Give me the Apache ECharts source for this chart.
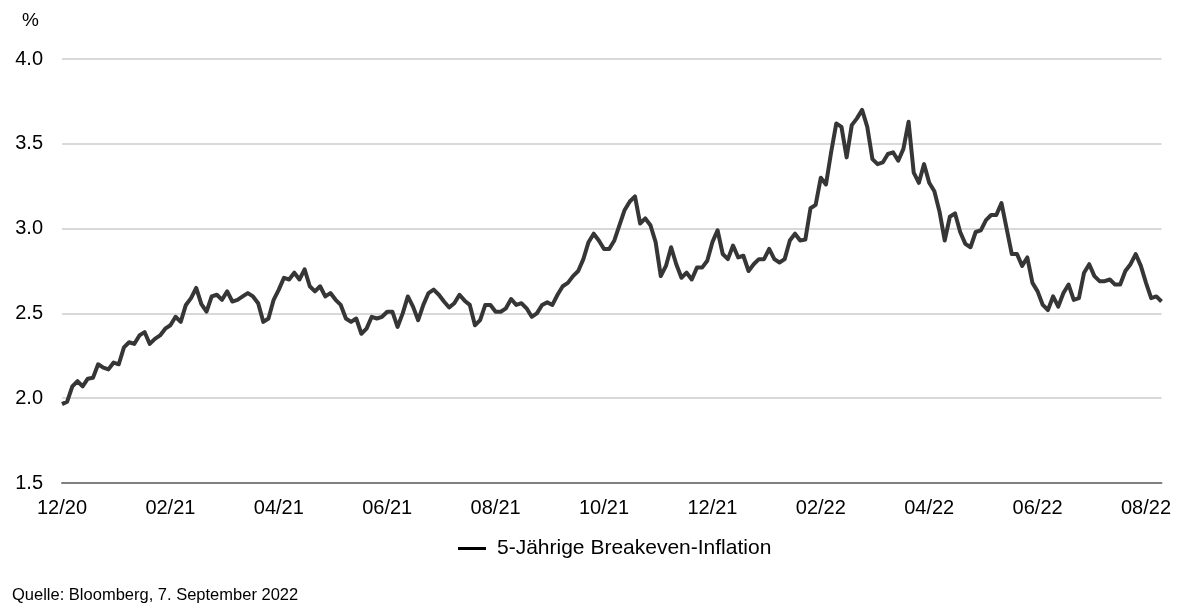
<!DOCTYPE html>
<html>
<head>
<meta charset="utf-8">
<script src="https://cdn.jsdelivr.net/npm/echarts@6/dist/echarts.min.js"></script>
<style>
html,body{margin:0;padding:0;background:#fff;}
#chart{width:1184px;height:613px;}
</style>
</head>
<body>
<div id="chart"></div>
<script>
var tickLabels = ['12/20','02/21','04/21','06/21','08/21','10/21','12/21','02/22','04/22','06/22','08/22'];
var labelEvery = 21;
var seriesName = '5-Jährige Breakeven-Inflation';
var breakeven = [
  1.965, 1.98, 2.07, 2.10, 2.07, 2.115, 2.12, 2.20, 2.18, 2.17,
  2.21, 2.20, 2.30, 2.33, 2.32, 2.37, 2.39, 2.32, 2.35, 2.37,
  2.41, 2.43, 2.48, 2.45, 2.55, 2.59, 2.65, 2.555, 2.51, 2.60,
  2.61, 2.58, 2.63, 2.57, 2.58, 2.60, 2.62, 2.60, 2.56, 2.45,
  2.47, 2.58, 2.64, 2.71, 2.70, 2.74, 2.70, 2.76, 2.66, 2.63,
  2.66, 2.60, 2.62, 2.58, 2.55, 2.47, 2.45, 2.47, 2.38, 2.41,
  2.48, 2.47, 2.48, 2.51, 2.51, 2.42, 2.50, 2.60, 2.54, 2.46,
  2.55, 2.62, 2.64, 2.61, 2.57, 2.535, 2.56, 2.61, 2.575, 2.55,
  2.43, 2.46, 2.55, 2.55, 2.51, 2.51, 2.53, 2.585, 2.55, 2.56,
  2.53, 2.48, 2.50, 2.55, 2.565, 2.55, 2.61, 2.66, 2.68, 2.72,
  2.75, 2.82, 2.92, 2.97, 2.93, 2.88, 2.88, 2.93, 3.02, 3.11,
  3.16, 3.19, 3.03, 3.06, 3.02, 2.92, 2.72, 2.78, 2.89, 2.79,
  2.71, 2.74, 2.70, 2.77, 2.77, 2.81, 2.92, 2.99, 2.85, 2.82,
  2.90, 2.83, 2.84, 2.75, 2.79, 2.82, 2.82, 2.88, 2.82, 2.80,
  2.82, 2.93, 2.97, 2.93, 2.935, 3.12, 3.14, 3.30, 3.26, 3.45,
  3.62, 3.60, 3.42, 3.61, 3.65, 3.70, 3.60, 3.41, 3.38, 3.39,
  3.44, 3.45, 3.40, 3.47, 3.63, 3.33, 3.27, 3.38, 3.27, 3.22,
  3.10, 2.93, 3.07, 3.09, 2.98, 2.91, 2.89, 2.98, 2.99, 3.05,
  3.08, 3.08, 3.15, 3.00, 2.85, 2.85, 2.78, 2.83, 2.68, 2.63,
  2.55, 2.52, 2.60, 2.54, 2.62, 2.67, 2.58, 2.59, 2.74, 2.79,
  2.72, 2.69, 2.69, 2.70, 2.67, 2.67, 2.75, 2.79, 2.85, 2.78,
  2.68, 2.59, 2.60, 2.57
];
var categories = breakeven.map(function (v, i) {
  return (i % labelEvery === 0 && tickLabels[i / labelEvery]) ? tickLabels[i / labelEvery] : String(i);
});

var FONT = '"Liberation Sans", Arial, sans-serif';
var chart = echarts.init(document.getElementById('chart'), null, {renderer: 'canvas'});
chart.setOption({
  animation: false,
  backgroundColor: '#ffffff',
  textStyle: {fontFamily: FONT},
  grid: {left: 62, right: 22.5, top: 59, bottom: 130},
  graphic: [
    {type: 'text', left: 22, top: 11, style: {text: '%', fontSize: 19, fontFamily: FONT, fill: '#000'}},
    {type: 'text', left: 12, top: 587, style: {text: 'Quelle: Bloomberg, 7. September 2022', fontSize: 16.5, fontFamily: FONT, fill: '#000'}}
  ],
  legend: {
    left: 458, top: 538, padding: 0,
    icon: 'rect', itemWidth: 28, itemHeight: 3, itemGap: 10,
    itemStyle: {color: '#000'},
    textStyle: {fontSize: 21, fontFamily: FONT, color: '#000', padding: [0, 0, 0, 6]},
    data: [seriesName]
  },
  xAxis: {
    type: 'category',
    data: categories,
    boundaryGap: false,
    axisLine: {show: true, lineStyle: {color: '#808080', width: 2}},
    axisTick: {show: false},
    axisLabel: {
      interval: function (i) { return i % labelEvery === 0; },
      color: '#000', fontSize: 20, fontFamily: FONT, margin: 15
    },
    splitLine: {show: false}
  },
  yAxis: {
    type: 'value',
    min: 1.5, max: 4.0, interval: 0.5,
    axisLine: {show: false},
    axisTick: {show: false},
    axisLabel: {
      color: '#000', fontSize: 20, fontFamily: FONT, margin: 19,
      formatter: function (v) { return v.toFixed(1); }
    },
    splitLine: {lineStyle: {color: '#d9d9d9', width: 2}}
  },
  series: [{
    name: seriesName,
    type: 'line',
    data: breakeven,
    symbol: 'none',
    smooth: false,
    lineStyle: {color: '#363636', width: 4, join: 'round'},
    itemStyle: {color: '#000'}
  }]
});
</script>
</body>
</html>
